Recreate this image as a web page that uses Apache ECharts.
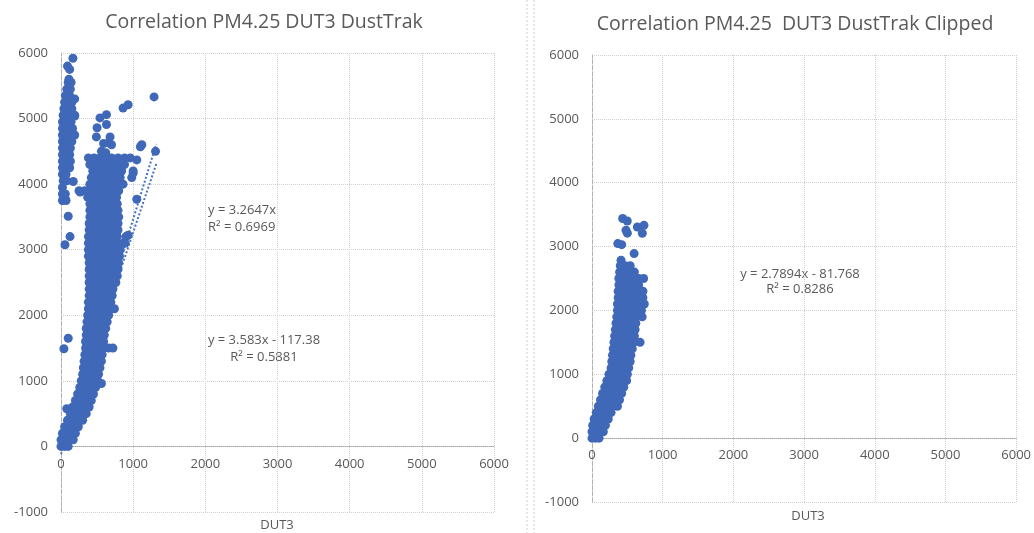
<!DOCTYPE html>
<html><head><meta charset="utf-8">
<script src="https://cdn.jsdelivr.net/npm/echarts@6/dist/echarts.min.js"></script>
<style>html,body{margin:0;padding:0;background:#fff}#c{width:1034px;height:533px}</style>
</head><body><div id="c"></div>
<script>
// ---- data (DUT3 on x, DustTrak on y) ----
const xTicks = [0, 1000, 2000, 3000, 4000, 5000, 6000];
const yTicks = [-1000, 0, 1000, 2000, 3000, 4000, 5000, 6000];

// left chart: dense body, rows of [DustTrak, [DUT3 values]]
const leftBodyRows = [
  [0,[0,50,100]],[100,[0,60,120,170]],[200,[20,80,140,200]],[300,[50,110,170,240]],
  [400,[90,150,220,300]],[500,[130,200,270,350]],[600,[160,230,310,390]],[700,[200,270,350,420]],
  [800,[230,310,380,450]],[900,[260,340,410,480]],[1000,[280,360,430,510]],[1100,[300,380,450,520]],
  [1200,[310,390,470,540]],[1300,[320,400,480,560]],[1400,[330,410,490,570]],[1500,[340,420,500,580,660]],
  [1600,[340,420,500,590]],[1700,[350,430,510,600]],[1800,[350,430,510,590,620]],[1900,[360,440,520,600,640]],
  [2000,[370,450,530,610,660]],[2100,[380,460,540,620,700]],[2200,[380,460,540,620,690]],[2300,[390,470,550,630,710]],
  [2400,[390,470,550,630,720]],[2500,[390,470,550,630,710,760]],[2600,[390,470,550,630,710,780]],[2700,[390,470,550,630,710,790]],
  [2800,[390,470,550,630,710,800]],[2900,[380,460,540,620,700,780,810]],[3000,[380,460,540,620,700,780,820]],[3100,[380,460,540,620,700,780,860]],
  [3200,[380,460,540,620,700,780,900]],[3300,[390,470,550,630,710,790]],[3400,[390,470,550,630,710,790]],[3500,[400,480,560,640,720,800]],
  [3600,[400,480,560,640,720,790]],[3700,[400,480,560,640,720,780]],[3800,[370,450,530,610,690,770]],[3900,[250,330,410,490,570,650,730,800]],
  [4000,[400,480,560,640,720,800,860]],[4100,[420,500,580,660,740,820,980]],[4200,[440,520,600,680,760,840,1000]],[4300,[400,480,560,640,720,800,880]],
  [4400,[380,460,540,620,700,790,880,960]]
];
// left chart: column of points near DUT3 = 0
const leftColumnRows = [
  [3750,[20,70]],[3850,[20,60]],[3950,[20]],[4050,[30,80]],[4150,[20,70]],[4250,[20,70,120]],
  [4350,[20,80,130]],[4450,[20,70,120]],[4550,[20,80,130]],[4650,[20,70,120,150]],[4750,[20,80,130,190]],[4850,[20,70,120,160]],
  [4950,[20,80,140]],[5050,[30,90,150,190]],[5150,[40,100,150]],[5250,[50,110,150]],[5300,[190]],[5350,[60,120]],
  [5450,[80,130]],[5550,[100,140]],[5600,[110]],[5750,[120]],[5800,[90]],[5920,[165]]
];
const leftOutliers = [
  [55,3075],[125,3200],[100,3510],[55,3780],[170,4040],[265,3880],[190,5040],
  [1290,5330],[860,5160],[930,5210],[1100,4570],[1120,4600],[1310,4500],[1050,4370],[1000,4170],
  [1050,3770],[930,3220],[890,3100],[540,5010],[630,5060],[500,4860],[630,4910],[490,4720],
  [680,4720],[590,4620],[660,4630],[700,4600],[560,4500],[620,4480],[100,1650],[40,1490],
  [80,575],[720,1500],[740,2100],[560,960]
];
// left chart trend lines (dotted), end points
const leftTrendA = [[0,0],[1320,4309]];
const leftTrendB = [[0,-117],[1320,4612]];

// right chart (clipped)
const rightBodyRows = [
  [0,[0,50,100]],[100,[0,50,110,160]],[200,[10,70,130,190]],[300,[30,100,170,230]],
  [400,[60,130,200,270]],[500,[90,160,230,300,360]],[600,[120,190,260,330,390]],[700,[150,220,290,360,420]],
  [800,[180,250,320,390,450]],[900,[210,280,350,420,490]],[1000,[240,310,380,450,500]],[1100,[270,340,410,470,520]],
  [1200,[280,350,420,490,540]],[1300,[290,360,430,500,550]],[1400,[300,370,440,510,570]],[1500,[310,380,450,520,590,680]],
  [1600,[320,390,460,530,600]],[1700,[330,400,470,540,610]],[1800,[340,410,480,550,620]],[1900,[350,420,490,560,630,710]],
  [2000,[360,430,500,570,640,700]],[2100,[360,430,500,570,640,740]],[2200,[370,440,510,580,650,720]],[2300,[370,440,510,580,650,720]],
  [2400,[380,450,520,590,660]],[2500,[380,450,520,590,660,730]],[2600,[390,460,530,600]],[2700,[400,470,540]]
];
const rightOutliers = [
  [434,3440],[499,3400],[481,3255],[500,3210],[365,3047],[420,3030],[642,3307],[735,3333],
  [712,3208],[596,2890],[411,2786]
];

// annotation texts
const leftEqA = ['y = 3.2647x', 'R² = 0.6969'];
const leftEqB = ['y = 3.583x - 117.38', 'R² = 0.5881'];
const rightEq = ['y = 2.7894x - 81.768', 'R² = 0.8286'];
const titles = ['Correlation PM4.25 DUT3 DustTrak', 'Correlation PM4.25  DUT3 DustTrak Clipped'];
const xName = 'DUT3';

function expand(rows){ const out=[]; rows.forEach(r=>r[1].forEach(x=>out.push([x,r[0]]))); return out; }

const FONT = '"Open Sans", "Liberation Sans", sans-serif';
const LABEL = '#595959';
const BLUE = '#4068b8';
const GRIDC = '#d0d0d0';

function xAx(gi, zeroOffset){ return {
  gridIndex: gi, type:'value', min:xTicks[0], max:xTicks[xTicks.length-1], interval:xTicks[1]-xTicks[0],
  position:'bottom', offset:-zeroOffset,
  axisLine:{show:true, onZero:false, lineStyle:{color:'#a6a6a6', type:'dotted', width:1}},
  axisTick:{show:false},
  axisLabel:{color:LABEL, fontSize:13, fontFamily:FONT, margin:11, formatter:v=>String(v)},
  splitLine:{show:true, lineStyle:{color:GRIDC, type:'dotted', width:1}}
};}
function yAx(gi){ return {
  gridIndex: gi, type:'value', min:yTicks[0], max:yTicks[yTicks.length-1], interval:yTicks[1]-yTicks[0],
  axisLine:{show:true, onZero:false, lineStyle:{color:'#b0b0b0', type:'dashed', width:1}},
  axisTick:{show:false},
  axisLabel:{color:LABEL, fontSize:13, fontFamily:FONT, margin:13, formatter:v=>String(v)},
  splitLine:{show:true, lineStyle:{color:GRIDC, type:'dotted', width:1}}
};}

const sc = (xi, data) => ({type:'scatter', xAxisIndex:xi, yAxisIndex:xi, data, symbolSize:9, z:3,
  itemStyle:{color:BLUE, opacity:1}, animation:false, silent:true});
const tl = (data) => ({type:'line', xAxisIndex:0, yAxisIndex:0, data, symbol:'none', z:2,
  lineStyle:{color:'#4472c4', type:'dotted', width:2}, animation:false, silent:true});

function txt(x,y,t,size,align){ return {type:'text', x, y, style:{text:t, fill:LABEL, font:size+'px '+FONT,
  textAlign:align||'left', textVerticalAlign:'middle'}}; }

const H0 = 459, H1 = 447;
const chart = echarts.init(document.getElementById('c'), null, {renderer:'canvas'});
chart.setOption({
  animation:false,
  backgroundColor:'#fff',
  grid:[
    {left:61, top:53, width:433, height:H0},
    {left:592, top:55, width:433, height:H1}
  ],
  xAxis:[xAx(0, H0/7), xAx(1, H1/7)],
  yAxis:[yAx(0), yAx(1)],
  series:[
    tl(leftTrendA), tl(leftTrendB),
    sc(0, expand(leftBodyRows)),
    sc(0, expand(leftColumnRows)),
    sc(0, leftOutliers),
    sc(1, expand(rightBodyRows)),
    sc(1, rightOutliers)
  ],
  graphic:[
    {type:'line', shape:{x1:527,y1:0,x2:527,y2:533}, style:{stroke:'#d0d0d0', lineWidth:1, lineDash:[2,2]}},
    {type:'line', shape:{x1:534,y1:0,x2:534,y2:533}, style:{stroke:'#d0d0d0', lineWidth:1, lineDash:[2,2]}},
    txt(264, 22, titles[0], 19.5, 'center'),
    txt(795, 24, titles[1], 19.5, 'center'),
    txt(208, 210, leftEqA[0], 13),
    txt(208, 227, leftEqA[1], 13),
    txt(264, 340, leftEqB[0], 13, 'center'),
    txt(264, 357, leftEqB[1], 13, 'center'),
    txt(800, 274, rightEq[0], 13, 'center'),
    txt(800, 289, rightEq[1], 13, 'center'),
    txt(277, 525, xName, 13, 'center'),
    txt(808, 516, xName, 13, 'center')
  ]
});
</script>
</body></html>
